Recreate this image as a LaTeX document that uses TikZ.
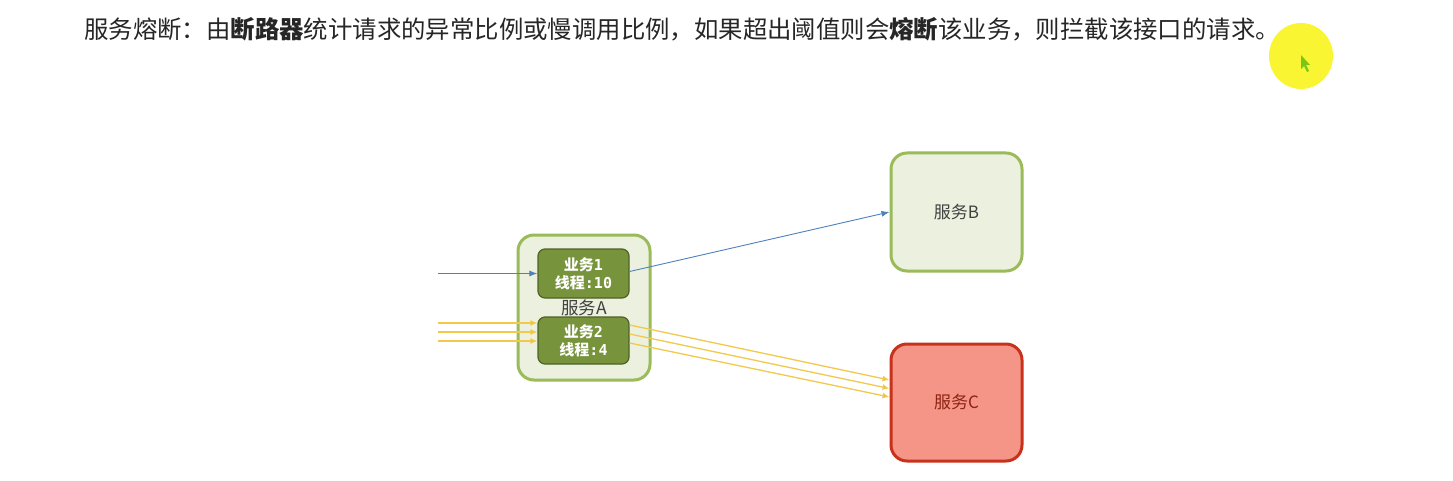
\documentclass[tikz,border=0pt]{standalone}
\usepackage{fontspec}
\setmainfont{Noto Sans CJK SC}
\newfontfamily\monof{DejaVu Sans Mono}
\usetikzlibrary{arrows.meta,calc}
\definecolor{lgfill}{HTML}{EBF1DE}
\definecolor{lgborder}{HTML}{9BBB59}
\definecolor{dgfill}{HTML}{77933C}
\definecolor{dgborder}{HTML}{4F6228}
\definecolor{redfill}{HTML}{F59587}
\definecolor{redborder}{HTML}{C8321C}
\definecolor{bluearrow}{HTML}{4F81BD}
\definecolor{yline}{HTML}{F2C94C}
\definecolor{ytip}{HTML}{F5A623}
\definecolor{txt}{HTML}{404040}
\definecolor{hl}{HTML}{FAF532}
\begin{document}
\begin{tikzpicture}[x=1pt,y=-1pt,
  svc/.style={draw=lgborder,line width=3pt,fill=lgfill,rounded corners=16pt,text=txt,font=\fontsize{17}{20}\selectfont},
  svcred/.style={draw=redborder,line width=3pt,fill=redfill,rounded corners=16pt,text=redborder!70!black,font=\fontsize{17}{20}\selectfont},
  biz/.style={draw=dgborder,line width=1.2pt,fill=dgfill,rounded corners=7pt,text=white,align=center,font=\fontsize{15}{18}\bfseries,inner sep=0pt},
  bline/.style={draw=bluearrow,line width=0.9pt,-{Latex[length=8pt,width=6pt]}},
  yl/.style={draw=yline,line width=1.3pt,-{Latex[length=7pt,width=6pt,fill=ytip]}},
]
\useasboundingbox (0,0) rectangle (1453,481);
\fill[white] (0,0) rectangle (1453,481);
% highlight cursor
\fill[hl] (1301,56) ellipse [x radius=32pt,y radius=33pt];
\fill[hl!60!green!80!black] (1301,55) -- (1301,69) -- (1304,66) -- (1307,72) -- (1309,71) -- (1306,65) -- (1310,65) -- cycle;
% title
\node[anchor=west,inner sep=0pt,font=\fontsize{24.4}{28}\selectfont,text=black!85] (title) at (84,29)
 {服务熔断：由\textbf{断路器}统计请求的异常比例或慢调用比例，如果超出阈值则会\textbf{熔断}该业务，则拦截该接口的请求。};
% service A
\node[svc,minimum width=132pt,minimum height=145pt] (A) at (584,307.5) {};
\node[text=txt,font=\fontsize{17.5}{20}\selectfont,inner sep=0pt] (Alabel) at (584,308) {服务A};
\node[biz,minimum width=91pt,minimum height=49pt] (b1) at (583.5,273.5) {业务{\monof\bfseries 1}\\线程{\monof\bfseries :10}};
\node[biz,minimum width=91pt,minimum height=47pt] (b2) at (583.5,340.5) {业务{\monof\bfseries 2}\\线程{\monof\bfseries :4}};
% services B and C
\node[svc,minimum width=131pt,minimum height=118pt] (B) at (956.5,212) {服务B};
\node[svcred,minimum width=131pt,minimum height=117pt] (C) at (956.5,402.5) {服务C};
% incoming
\coordinate (in0) at (438,273.5);
\coordinate (in1) at (438,323);
\coordinate (in2) at (438,332);
\coordinate (in3) at (438,341);
\draw[bline] (in0) -- (b1.west);
\draw[yl] (in1) -- (in1 -| b2.west);
\draw[yl] (in2) -- (in2 -| b2.west);
\draw[yl] (in3) -- (in3 -| b2.west);
% outgoing
\draw[bline] ($(b1.east)+(0,-2)$) -- (B.west);
\draw[yl] ($(b2.east)+(0,-15.5)$) -- ($(C.west)+(0,-22.5)$);
\draw[yl] ($(b2.east)+(0,-6.5)$) -- ($(C.west)+(0,-14)$);
\draw[yl] ($(b2.east)+(0,2.5)$) -- ($(C.west)+(0,-5.5)$);
\end{tikzpicture}
\end{document}
